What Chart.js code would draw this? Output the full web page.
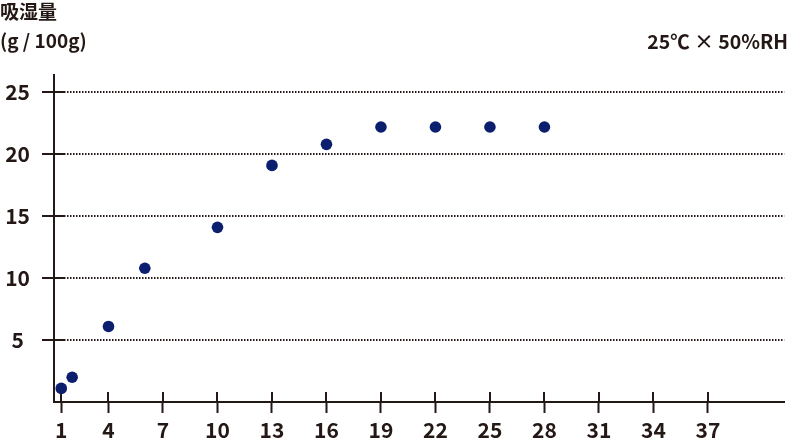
<!DOCTYPE html>
<html>
<head>
<meta charset="utf-8">
<script src="https://cdn.jsdelivr.net/npm/chart.js@4.4.1/dist/chart.umd.min.js"></script>
<style>
  html, body { margin: 0; padding: 0; background: #ffffff; }
  #wrap { position: relative; width: 790px; height: 441px; overflow: hidden; }
  #c { position: absolute; left: 0; top: 0; }
  .t { position: absolute; font-family: "Noto Sans CJK JP", "Noto Sans", sans-serif; font-weight: bold; color: #231815; white-space: nowrap; line-height: 1; }
</style>
</head>
<body>
<div id="wrap">
  <canvas id="c" width="790" height="441"></canvas>
  <div class="t" id="t1" style="left:0px; top:1px; font-size:19px;">吸湿量</div>
  <div class="t" id="t2" style="left:0px; top:30px; font-size:19px;">(g / 100g)</div>
  <div class="t" id="t3" style="right:2px; top:31px; font-size:19.5px;">25℃ × 50%RH</div>
</div>
<script>
// ---- data ----
const days = [1.4, 2, 4, 6, 10, 13, 16, 19, 22, 25, 28];
const moisture = [1.1, 2.0, 6.1, 10.8, 14.1, 19.1, 20.8, 22.2, 22.2, 22.2, 22.2];
const xTickValues = [1.4, 4, 7, 10, 13, 16, 19, 22, 25, 28, 31, 34, 37];
const xTickLabels = ["1", "4", "7", "10", "13", "16", "19", "22", "25", "28", "31", "34", "37"];
const yTickValues = [5, 10, 15, 20, 25];

const INK = '#231815';
const DOT = '#0b1f6e';
const FONT = { family: '"Noto Sans CJK JP", "Noto Sans", sans-serif', size: 21, weight: 'bold' };

const innerTicks = {
  id: 'innerTicks',
  beforeDatasetsDraw(chart) {
    const ctx = chart.ctx;
    const xs = chart.scales.x, ys = chart.scales.y;
    const area = chart.chartArea;
    ctx.save();
    ctx.strokeStyle = INK;
    ctx.lineWidth = 2;
    ctx.setLineDash([]);
    xs.ticks.forEach(t => {
      const px = Math.round(xs.getPixelForValue(t.value));
      ctx.beginPath();
      ctx.moveTo(px, area.bottom);
      ctx.lineTo(px, area.bottom - 10);
      ctx.stroke();
    });
    ys.ticks.forEach(t => {
      const py = Math.round(ys.getPixelForValue(t.value));
      ctx.beginPath();
      ctx.moveTo(area.left, py);
      ctx.lineTo(area.left + 11, py);
      ctx.stroke();
    });
    ctx.restore();
  }
};

new Chart(document.getElementById('c'), {
  type: 'scatter',
  data: {
    datasets: [{
      data: days.map((d, i) => ({ x: d, y: moisture[i] })),
      backgroundColor: DOT,
      borderWidth: 0,
      pointRadius: 5.8,
      pointHoverRadius: 5.8
    }]
  },
  options: {
    responsive: false,
    animation: false,
    events: [],
    layout: { padding: { top: 75, right: 2, left: 0, bottom: 0 } },
    plugins: { legend: { display: false }, tooltip: { enabled: false } },
    scales: {
      x: {
        type: 'linear',
        min: 1,
        max: 41.2,
        afterBuildTicks: s => { s.ticks = xTickValues.map(v => ({ value: v })); },
        afterFit: s => { s.height = 39; },
        grid: { drawOnChartArea: false, drawTicks: true, tickLength: 11, tickWidth: 2, tickColor: INK, color: INK },
        border: { display: true, color: INK, width: 2 },
        ticks: {
          autoSkip: false, maxRotation: 0, padding: 4, color: INK, font: FONT,
          callback: (v, i) => xTickLabels[i]
        }
      },
      y: {
        type: 'linear',
        min: 0,
        max: 26.4,
        afterBuildTicks: s => { s.ticks = yTickValues.map(v => ({ value: v })); },
        afterFit: s => { s.width = 54; },
        grid: {
          color: INK, lineWidth: 2,
          drawTicks: true, tickLength: 12, tickWidth: 2, tickColor: INK, tickBorderDash: []
        },
        border: { display: true, color: INK, width: 2, dash: [1.5, 1.5] },
        ticks: {
          crossAlign: 'center', padding: 12, color: INK, font: FONT,
          callback: v => String(v)
        }
      }
    }
  },
  plugins: [innerTicks]
});
</script>
</body>
</html>
